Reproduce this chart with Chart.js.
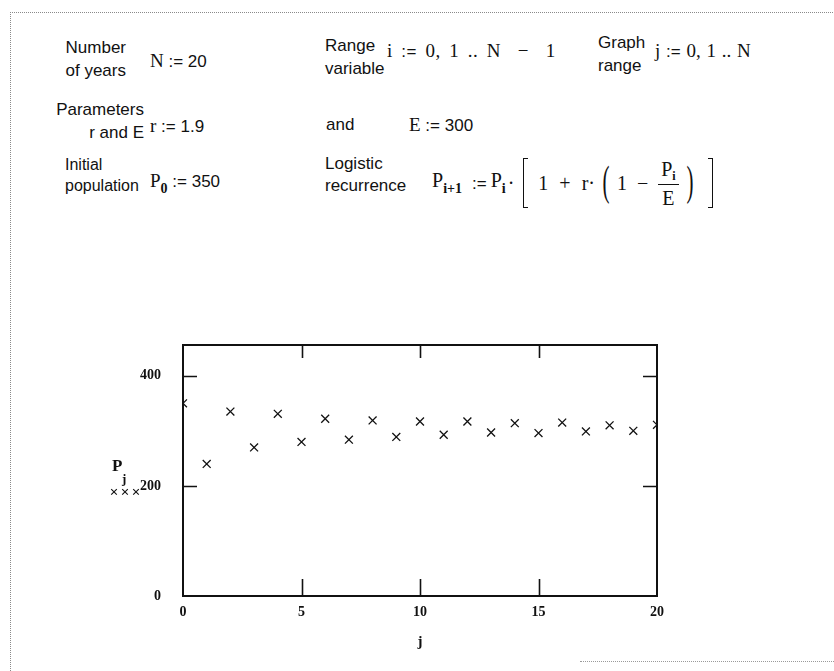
<!DOCTYPE html>
<html>
<head>
<meta charset="utf-8">
<script src="https://cdn.jsdelivr.net/npm/chart.js@4.4.1/dist/chart.umd.min.js"></script>
<style>
  html, body { margin: 0; padding: 0; background: #fff; width: 834px; height: 671px; overflow: hidden; }
  .sheet { position: relative; width: 834px; height: 671px; }
  .frame { position: absolute; left: 10px; top: 12px; width: 830px; height: 680px;
           border-left: 1px dotted #8a8a8a; border-top: 1px dotted #8a8a8a; }
  .foot { position: absolute; left: 580px; top: 661px; width: 254px; border-top: 1px dotted #9a9a9a; }
  .t { position: absolute; font-family: "Liberation Sans", Arial, sans-serif; font-size: 17px;
       color: #111; line-height: 1; white-space: nowrap; }
  .r { text-align: right; }
  .m { position: absolute; font-family: "Liberation Serif", "Times New Roman", serif; font-size: 19px;
       color: #111; line-height: 1; white-space: nowrap; }
  .n { font-family: "Liberation Sans Narrow", "Liberation Sans", sans-serif; font-size: 17px; }
  .m sub { font-size: 14px; vertical-align: -6px; font-weight: bold; }
  .eq { display: flex; align-items: center; font-size: 20px; }
  .brk { display: inline-block; width: 4px; height: 48px; border: 1.6px solid #111; }
  .brk.l { border-right: none; margin: 0 0 0 9px; }
  .brk.rr { border-left: none; margin-left: 11px; }
  .par { display: inline-block; font-size: 42px; transform: scaleX(0.5); position: relative; top: -2px; }
  .frac { display: inline-flex; flex-direction: column; align-items: center; }
  .frac .num { padding: 0 3px 2px 3px; border-bottom: 1.3px solid #111; }
  .frac .den { padding-top: 3px; }
  #plot { position: absolute; left: 80px; top: 335px; width: 620px; height: 320px; }
</style>
</head>
<body>
<div class="sheet">
  <div class="frame"></div>
  <div class="foot"></div>

  <!-- row 1 -->
  <div class="t r" style="left:40px;width:86px;top:39px;">Number</div>
  <div class="t r" style="left:40px;width:86px;top:62px;">of years</div>
  <div class="m" style="left:150px;top:51px;">N <span class="n">:= 20</span></div>
  <div class="t" style="left:325px;top:37px;">Range</div>
  <div class="t" style="left:325px;top:60px;">variable</div>
  <div class="m" style="left:387px;top:41px;letter-spacing:0.6px;word-spacing:3px;">i <span class="n">:=</span> 0, 1 .. N &nbsp;−&nbsp; 1</div>
  <div class="t" style="left:598px;top:34px;">Graph</div>
  <div class="t" style="left:598px;top:57px;">range</div>
  <div class="m" style="left:655px;top:41px;word-spacing:1px;">j <span class="n">:=</span> 0, 1 .. N</div>

  <!-- row 2 -->
  <div class="t r" style="left:40px;width:104px;top:101px;">Parameters</div>
  <div class="t r" style="left:40px;width:104px;top:124px;">r and E</div>
  <div class="m" style="left:150px;top:116px;">r <span class="n">:= 1.9</span></div>
  <div class="t" style="left:326px;top:116px;">and</div>
  <div class="m" style="left:409px;top:115px;">E <span class="n">:= 300</span></div>

  <!-- row 3 -->
  <div class="t" style="left:65px;top:157px;font-size:16px;">Initial</div>
  <div class="t" style="left:65px;top:178px;font-size:16px;">population</div>
  <div class="m" style="left:150px;top:171px;">P<sub>0</sub> <span class="n">:= 350</span></div>
  <div class="t" style="left:325px;top:155px;">Logistic</div>
  <div class="t" style="left:325px;top:177px;">recurrence</div>
  <div class="m eq" style="left:432px;top:157px;height:52px;">
    <span>P<sub>i+1</sub></span>
    <span class="n" style="margin-left:10px;">:=</span>
    <span style="margin-left:4px;">P<sub>i</sub></span>
    <span style="margin-left:2px;">·</span>
    <span class="brk l"></span>
    <span style="margin-left:10px;">1</span>
    <span style="margin-left:11px;">+</span>
    <span style="margin-left:11px;">r·</span>
    <span class="par" style="margin-left:4px;">(</span>
    <span style="margin-left:4px;">1</span>
    <span style="margin-left:10px;">−</span>
    <span class="frac" style="margin-left:10px;"><span class="num">P<sub style="font-size:12px;vertical-align:-4px;">i</sub></span><span class="den">E</span></span>
    <span class="par" style="margin-left:4px;">)</span>
    <span class="brk rr"></span>
  </div>

  <div id="plot"><canvas id="c"></canvas></div>
</div>

<script>
// Graph range j = 0 .. N and the population P_j for each year
const years = [0, 1, 2, 3, 4, 5, 6, 7, 8, 9, 10, 11, 12, 13, 14, 15, 16, 17, 18, 19, 20];
const population = [350, 240, 335, 270, 331, 280, 322, 284, 319, 289, 317,
                    293, 317, 297, 314, 296, 315, 299, 310, 300, 311];
const xTickValues = [0, 5, 10, 15, 20];
const yTickValues = [0, 200, 400];
const xRange = [0, 20];
const yRange = [0, 456];

const tickFont = { family: '"Liberation Serif", "Times New Roman", serif', size: 14, weight: 'bold' };

// Boxed frame with inward ticks, plus the P_j label and its trace symbols
const mathcadFrame = {
  id: 'mathcadFrame',
  afterDatasetsDraw(chart) {
    const { ctx, chartArea: a, scales: { x, y } } = chart;
    ctx.save();
    ctx.strokeStyle = '#111';
    ctx.lineWidth = 2;
    ctx.strokeRect(a.left, a.top, a.right - a.left, a.bottom - a.top);
    ctx.lineWidth = 1.6;
    ctx.beginPath();
    xTickValues.slice(1, -1).forEach(v => {
      const px = Math.round(x.getPixelForValue(v)) + 0.5;
      ctx.moveTo(px, a.bottom); ctx.lineTo(px, a.bottom - 17);
      ctx.moveTo(px, a.top); ctx.lineTo(px, a.top + 13);
    });
    yTickValues.slice(1).forEach(v => {
      const py = Math.round(y.getPixelForValue(v)) + 0.5;
      ctx.moveTo(a.left, py); ctx.lineTo(a.left + 14, py);
      ctx.moveTo(a.right, py); ctx.lineTo(a.right - 14, py);
    });
    ctx.stroke();

    // y label "P" with subscript "j"
    const y200 = y.getPixelForValue(200);
    ctx.fillStyle = '#111';
    ctx.textBaseline = 'alphabetic';
    ctx.textAlign = 'left';
    ctx.font = 'bold 17px "Liberation Serif", serif';
    ctx.fillText('P', a.left - 71, y200 - 15);
    ctx.font = 'bold 13px "Liberation Serif", serif';
    ctx.fillText('j', a.left - 61, y200 - 3);
    // three trace symbols under the label
    ctx.lineWidth = 1.1;
    [a.left - 69, a.left - 58, a.left - 47].forEach(cx => {
      const cy = y200 + 6, s = 2.8;
      ctx.beginPath();
      ctx.moveTo(cx - s, cy - s); ctx.lineTo(cx + s, cy + s);
      ctx.moveTo(cx + s, cy - s); ctx.lineTo(cx - s, cy + s);
      ctx.stroke();
    });
    ctx.restore();
  }
};

new Chart(document.getElementById('c'), {
  type: 'scatter',
  data: {
    datasets: [{
      data: years.map((j, k) => ({ x: j, y: population[k] })),
      pointStyle: 'crossRot',
      pointRadius: 5.6,
      pointHoverRadius: 5.6,
      borderColor: '#111',
      backgroundColor: '#111',
      borderWidth: 1.3,
      clip: 0
    }]
  },
  options: {
    responsive: true,
    maintainAspectRatio: false,
    animation: false,
    events: [],
    layout: { padding: { top: 10, right: 43, left: 0, bottom: 0 } },
    plugins: { legend: { display: false }, tooltip: { enabled: false } },
    scales: {
      x: {
        type: 'linear',
        min: xRange[0], max: xRange[1],
        afterBuildTicks: s => { s.ticks = xTickValues.map(v => ({ value: v })); },
        afterFit: s => { s.height = 59; s.paddingLeft = 0; s.paddingRight = 0; },
        grid: { display: false, drawTicks: false },
        border: { display: false },
        ticks: { font: tickFont, color: '#111', padding: 8, maxRotation: 0, autoSkip: false },
        title: { display: true, text: 'j', color: '#111', font: { family: '"Liberation Serif", serif', size: 15, weight: 'bold' }, padding: { top: 0, bottom: 4 } }
      },
      y: {
        type: 'linear',
        min: yRange[0], max: yRange[1],
        afterBuildTicks: s => { s.ticks = yTickValues.map(v => ({ value: v })); },
        afterFit: s => { s.width = 103; s.paddingTop = 0; s.paddingBottom = 0; },
        grid: { display: false, drawTicks: false },
        border: { display: false },
        ticks: { font: tickFont, color: '#111', padding: 22 }
      }
    }
  },
  plugins: [mathcadFrame]
});
</script>
</body>
</html>
